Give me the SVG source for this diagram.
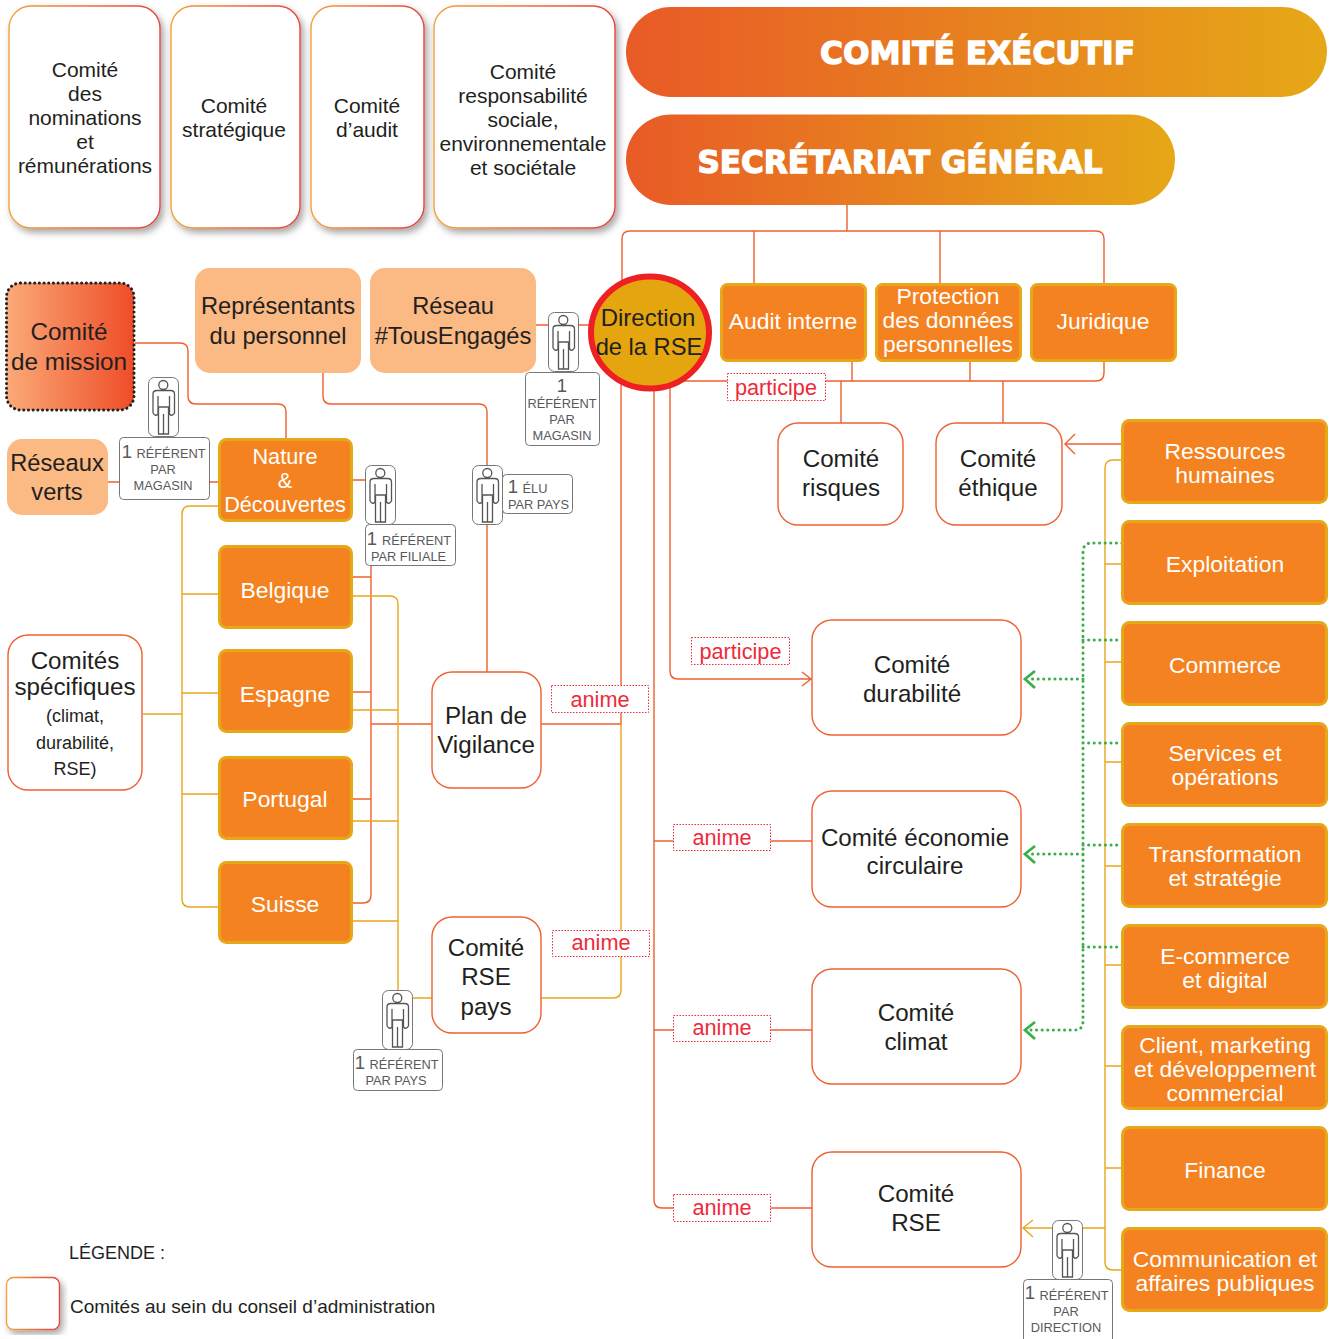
<svg xmlns="http://www.w3.org/2000/svg" width="1330" height="1339" viewBox="0 0 1330 1339">
<style>
text{font-family:"Liberation Sans",Arial,sans-serif;text-anchor:middle}
.c{fill:none;stroke-width:1.4}
.r{stroke:#ef5f30}
.y{stroke:#e9a71c}
.g{stroke:#3aae4a;stroke-width:3;stroke-dasharray:0.1 5.500;stroke-linecap:round}
.ga{fill:none;stroke:#3aae4a;stroke-width:2.8}
.top rect{fill:#fff;stroke:url(#tb);stroke-width:1.4;filter:url(#sh)}
.top text{font-size:21px;fill:#231f20}
.ttl rect{fill:url(#tg)}
.ttl text{font-family:"DejaVu Sans",sans-serif;font-weight:700;font-size:32px;fill:#fff;stroke:#fff;stroke-width:1.3}
.o rect{fill:#f58220;stroke:#e6a817;stroke-width:3}
.o text{font-size:22.900px;fill:#fff}
.p rect{fill:#fbb984}
.p text{font-size:23.700px;fill:#231f20}
.w rect{fill:#fff;stroke:#ef5f30;stroke-width:1.4}
.w text{font-size:24.200px;fill:#231f20}
.l rect{fill:#fff;stroke:#ee2a3a;stroke-width:1;stroke-dasharray:1.500 1.500}
.l text{font-size:21.700px;fill:#ee2a3a}
.b rect{fill:#fff;stroke:#777;stroke-width:1}
.b text{font-size:12.800px;fill:#58595b}
.b .n{font-size:18.500px}
</style>
<defs>
<linearGradient id="tg"><stop offset="0" stop-color="#e95a27"/><stop offset="1" stop-color="#e6a817"/></linearGradient>
<linearGradient id="tb"><stop offset="0" stop-color="#f0a33c"/><stop offset="1" stop-color="#e8413c"/></linearGradient>
<linearGradient id="mg"><stop offset="0" stop-color="#fbaa78"/><stop offset="1" stop-color="#ee4d28"/></linearGradient>
<filter id="sh" x="-15%" y="-10%" width="130%" height="120%"><feDropShadow dx="3" dy="4" stdDeviation="3.500" flood-color="#000" flood-opacity=".35"/></filter>
<symbol id="person" viewBox="0 0 31 60" width="31" height="60">
<rect x=".5" y=".5" width="30" height="59" rx="6" fill="#fff" stroke="#777" stroke-width="1"/>
<circle cx="15.300" cy="8" r="4.500" fill="none" stroke="#555" stroke-width="1.300"/>
<path d="M5 36V17Q5 13.500 9 13.500H22.500Q26.500 13.500 26.500 17V36Q24 40 21.500 37V19M5 36Q7.500 40 10 37V19M10 30H21.500M10.500 30V57H20.500V30M15.500 37V57" fill="none" stroke="#555" stroke-width="1.300"/>
</symbol>
</defs>

<g id="connectors">
<path class="c r" d="M847 205V231M622 280V239Q622 231 630 231H1096Q1104 231 1104 239V284M754 231V284M940 231V284"/>
<path class="c r" d="M683 381H1096Q1104 381 1104 373V362M852 362V381M970 362V381M841 381V423M1003 381V423"/>
<path class="c r" d="M621 385V724H541M654 388V1200Q654 1208 662 1208H812M654 841H812M654 1030H812"/>
<path class="c r" d="M670 388V671Q670 679 678 679H811M802 672L811 679L802 686"/>
<path class="c r" d="M135 343H180Q188 343 188 351V396Q188 404 196 404H278Q286 404 286 412V439"/>
<path class="c r" d="M323 373V396Q323 404 331 404H479Q487 404 487 412V672"/>
<path class="c r" d="M108 482H219M536 325H590M352 480H371V895Q371 903 363 903H352M352 577H371M352 692H371M352 799H371M371 724H432"/>
<path class="c r" d="M1122 444H1066M1075 434L1065 444L1075 454"/>
<path class="c y" d="M621 724V990Q621 998 613 998H541"/>
<path class="c y" d="M219 506H190Q182 506 182 514V899Q182 907 190 907H219M182 594H219M182 693H219M182 794H219M143 714H182"/>
<path class="c y" d="M352 596H390Q398 596 398 604V998H432M352 710H398M352 821H398M352 921H398"/>
<path class="c y" d="M1122 460H1113Q1105 460 1105 468V1262Q1105 1270 1113 1270H1122M1105 564H1122M1105 662H1122M1105 762H1122M1105 866H1122M1105 965H1122M1105 1066H1122M1105 1168H1122M1105 1228H1024M1033 1220L1023 1228L1033 1237"/>
<path class="c g" d="M1122 543H1092Q1083 543 1083 552V1021Q1083 1030 1075 1030H1030M1083 640H1122M1083 743H1122M1083 845H1122M1083 947H1122M1083 679H1030M1083 854H1030"/>
<path class="ga" d="M1035 671L1025 679L1035 688M1035 846L1025 854L1035 863M1035 1022L1025 1030L1035 1039"/>
</g>

<g id="comite-nominations" class="top"><rect x="9" y="6" width="151" height="222" rx="22"/><text x="85" y="77">Comité</text><text x="85" y="101">des</text><text x="85" y="125">nominations</text><text x="85" y="149">et</text><text x="85" y="173">rémunérations</text></g>
<g id="comite-strategique" class="top"><rect x="171" y="6" width="129" height="222" rx="22"/><text x="234" y="113">Comité</text><text x="234" y="137">stratégique</text></g>
<g id="comite-audit" class="top"><rect x="311" y="6" width="113" height="222" rx="22"/><text x="367" y="113">Comité</text><text x="367" y="137">d’audit</text></g>
<g id="comite-rsoc" class="top"><rect x="434" y="6" width="181" height="222" rx="22"/><text x="523" y="79">Comité</text><text x="523" y="103">responsabilité</text><text x="523" y="127">sociale,</text><text x="523" y="151">environnementale</text><text x="523" y="175">et sociétale</text></g>

<g id="comite-executif" class="ttl"><rect x="626" y="7" width="701" height="90" rx="45"/><text x="977.500" y="64" textLength="315" lengthAdjust="spacingAndGlyphs">COMITÉ EXÉCUTIF</text></g>
<g id="secretariat-general" class="ttl"><rect x="626" y="114.500" width="549" height="90.500" rx="45"/><text x="900" y="173" textLength="405" lengthAdjust="spacingAndGlyphs">SECRÉTARIAT GÉNÉRAL</text></g>

<g id="comite-mission"><rect x="6.500" y="283" width="127.500" height="127" rx="14" fill="url(#mg)" stroke="#222" stroke-width="3" stroke-dasharray="0.1 4.600" stroke-linecap="round"/><text x="69" y="340" font-size="24.300" fill="#231f20">Comité</text><text x="69" y="370" font-size="24.300" fill="#231f20">de mission</text></g>
<g id="representants" class="p"><rect x="195" y="268" width="166" height="105" rx="15"/><text x="278" y="314">Représentants</text><text x="278" y="344">du personnel</text></g>
<g id="reseau-tous-engages" class="p"><rect x="370" y="268" width="166" height="105" rx="15"/><text x="453" y="314">Réseau</text><text x="453" y="344">#TousEngagés</text></g>
<g id="reseaux-verts" class="p"><rect x="7" y="439" width="101" height="76" rx="15"/><text x="57" y="471">Réseaux</text><text x="57" y="500">verts</text></g>

<g id="direction-rse"><ellipse cx="650" cy="332.500" rx="59" ry="56" fill="#e5a50f" stroke="#ee2024" stroke-width="6"/><text x="648" y="326" font-size="24" fill="#231f20">Direction</text><text x="649" y="355" font-size="23.700" fill="#231f20">de la RSE</text></g>

<g id="audit-interne" class="o"><rect x="721.500" y="284.500" width="144" height="76" rx="6"/><text x="793" y="329">Audit interne</text></g>
<g id="protection-donnees" class="o"><rect x="876.500" y="284.500" width="144" height="76" rx="6"/><text x="948" y="304">Protection</text><text x="948" y="328">des données</text><text x="948" y="352">personnelles</text></g>
<g id="juridique" class="o"><rect x="1031.500" y="284.500" width="144" height="76" rx="6"/><text x="1103" y="329">Juridique</text></g>

<g id="nature" class="o"><rect x="219.500" y="439.500" width="132" height="81" rx="7"/><text x="285" y="463.500" style="font-size:21.700px">Nature</text><text x="285" y="488" style="font-size:21.700px">&amp;</text><text x="285" y="512" style="font-size:21.700px">Découvertes</text></g>
<g id="belgique" class="o"><rect x="219.500" y="546.500" width="132" height="81" rx="7"/><text x="285" y="598">Belgique</text></g>
<g id="espagne" class="o"><rect x="219.500" y="650.500" width="132" height="81" rx="7"/><text x="285" y="702">Espagne</text></g>
<g id="portugal" class="o"><rect x="219.500" y="757.500" width="132" height="81" rx="7"/><text x="285" y="807">Portugal</text></g>
<g id="suisse" class="o"><rect x="219.500" y="862.500" width="132" height="80" rx="7"/><text x="285" y="912">Suisse</text></g>

<g id="comites-specifiques" class="w"><rect x="8" y="635" width="134" height="155" rx="20"/><text x="75" y="669">Comités</text><text x="75" y="695">spécifiques</text><text x="75" y="722" style="font-size:18px">(climat,</text><text x="75" y="749" style="font-size:18px">durabilité,</text><text x="75" y="775" style="font-size:18px">RSE)</text></g>
<g id="plan-vigilance" class="w"><rect x="432" y="672" width="109" height="116" rx="20"/><text x="486" y="724">Plan de</text><text x="486" y="753">Vigilance</text></g>
<g id="comite-rse-pays" class="w"><rect x="432" y="917" width="109" height="116" rx="20"/><text x="486" y="956">Comité</text><text x="486" y="985">RSE</text><text x="486" y="1015">pays</text></g>
<g id="comite-risques" class="w"><rect x="778" y="423" width="125" height="102" rx="20"/><text x="841" y="467">Comité</text><text x="841" y="496">risques</text></g>
<g id="comite-ethique" class="w"><rect x="936" y="423" width="126" height="102" rx="20"/><text x="998" y="467">Comité</text><text x="998" y="496">éthique</text></g>
<g id="comite-durabilite" class="w"><rect x="812" y="620" width="209" height="115" rx="20"/><text x="912" y="673">Comité</text><text x="912" y="702">durabilité</text></g>
<g id="comite-economie" class="w"><rect x="812" y="791" width="209" height="116" rx="20"/><text x="915" y="846">Comité économie</text><text x="915" y="874">circulaire</text></g>
<g id="comite-climat" class="w"><rect x="812" y="969" width="209" height="115" rx="20"/><text x="916" y="1021">Comité</text><text x="916" y="1050">climat</text></g>
<g id="comite-rse" class="w"><rect x="812" y="1152" width="209" height="115" rx="20"/><text x="916" y="1202">Comité</text><text x="916" y="1231">RSE</text></g>

<g id="ressources-humaines" class="o"><rect x="1122.500" y="420.500" width="204" height="82" rx="7"/><text x="1225" y="459">Ressources</text><text x="1225" y="483">humaines</text></g>
<g id="exploitation" class="o"><rect x="1122.500" y="521.500" width="204" height="82" rx="7"/><text x="1225" y="572">Exploitation</text></g>
<g id="commerce" class="o"><rect x="1122.500" y="622.500" width="204" height="82" rx="7"/><text x="1225" y="673">Commerce</text></g>
<g id="services-operations" class="o"><rect x="1122.500" y="723.500" width="204" height="82" rx="7"/><text x="1225" y="761">Services et</text><text x="1225" y="785">opérations</text></g>
<g id="transformation" class="o"><rect x="1122.500" y="824.500" width="204" height="82" rx="7"/><text x="1225" y="862">Transformation</text><text x="1225" y="886">et stratégie</text></g>
<g id="ecommerce" class="o"><rect x="1122.500" y="925.500" width="204" height="82" rx="7"/><text x="1225" y="964">E-commerce</text><text x="1225" y="988">et digital</text></g>
<g id="client-marketing" class="o"><rect x="1122.500" y="1026.500" width="204" height="82" rx="7"/><text x="1225" y="1053">Client, marketing</text><text x="1225" y="1077">et développement</text><text x="1225" y="1101">commercial</text></g>
<g id="finance" class="o"><rect x="1122.500" y="1127.500" width="204" height="82" rx="7"/><text x="1225" y="1178">Finance</text></g>
<g id="communication" class="o"><rect x="1122.500" y="1228.500" width="204" height="82" rx="7"/><text x="1225" y="1267">Communication et</text><text x="1225" y="1291">affaires publiques</text></g>

<g id="label-participe-1" class="l"><rect x="727.500" y="373.500" width="98" height="27"/><text x="776" y="395">participe</text></g>
<g id="label-participe-2" class="l"><rect x="691.500" y="637.500" width="98" height="27"/><text x="740.500" y="659">participe</text></g>
<g id="label-anime-1" class="l"><rect x="551.500" y="685.500" width="97" height="27"/><text x="600" y="707">anime</text></g>
<g id="label-anime-2" class="l"><rect x="673.500" y="824.500" width="97" height="26"/><text x="722" y="845">anime</text></g>
<g id="label-anime-3" class="l"><rect x="552.500" y="930.500" width="97" height="26"/><text x="601" y="950">anime</text></g>
<g id="label-anime-4" class="l"><rect x="673.500" y="1015.500" width="97" height="26"/><text x="722" y="1035">anime</text></g>
<g id="label-anime-5" class="l"><rect x="673.500" y="1194.500" width="97" height="27"/><text x="722" y="1215">anime</text></g>

<g id="referent-magasin-1" class="b"><use href="#person" x="148" y="377"/><rect x="119.500" y="437.500" width="90" height="62" rx="4"/><text x="127" y="458" class="n">1</text><text x="171" y="458">RÉFÉRENT</text><text x="163" y="474">PAR</text><text x="163" y="490">MAGASIN</text></g>
<g id="referent-filiale" class="b"><use href="#person" x="365" y="465"/><rect x="365.500" y="524.500" width="90" height="41" rx="4"/><text x="372" y="545" class="n">1</text><text x="416.500" y="545">RÉFÉRENT</text><text x="408.500" y="561">PAR FILIALE</text></g>
<g id="referent-magasin-2" class="b"><use href="#person" x="548" y="312"/><rect x="525.500" y="372.500" width="74" height="73" rx="4"/><text x="562" y="392" class="n">1</text><text x="562" y="408">RÉFÉRENT</text><text x="562" y="424">PAR</text><text x="562" y="440">MAGASIN</text></g>
<g id="elu-pays" class="b"><use href="#person" x="472" y="465"/><rect x="502.500" y="474.500" width="70" height="39" rx="4"/><text x="513" y="493" class="n">1</text><text x="535" y="493">ÉLU</text><text x="538.500" y="509">PAR PAYS</text></g>
<g id="referent-pays" class="b"><use href="#person" x="382" y="990"/><rect x="353.500" y="1049.500" width="89" height="41" rx="4"/><text x="360" y="1069" class="n">1</text><text x="404" y="1069">RÉFÉRENT</text><text x="396" y="1085">PAR PAYS</text></g>
<g id="referent-direction" class="b"><use href="#person" x="1052" y="1220"/><rect x="1023.500" y="1279.500" width="89" height="70" rx="4"/><text x="1030" y="1299" class="n">1</text><text x="1074" y="1300">RÉFÉRENT</text><text x="1066" y="1316">PAR</text><text x="1066" y="1332">DIRECTION</text></g>

<g id="legende"><text x="69" y="1259" font-size="18" fill="#231f20" style="text-anchor:start">LÉGENDE :</text><rect x="6.500" y="1277.500" width="53" height="52" rx="7" fill="#fff" stroke="url(#tb)" stroke-width="1.400" filter="url(#sh)"/><text x="70" y="1313" font-size="19" fill="#231f20" style="text-anchor:start">Comités au sein du conseil d’administration</text></g>
</svg>
